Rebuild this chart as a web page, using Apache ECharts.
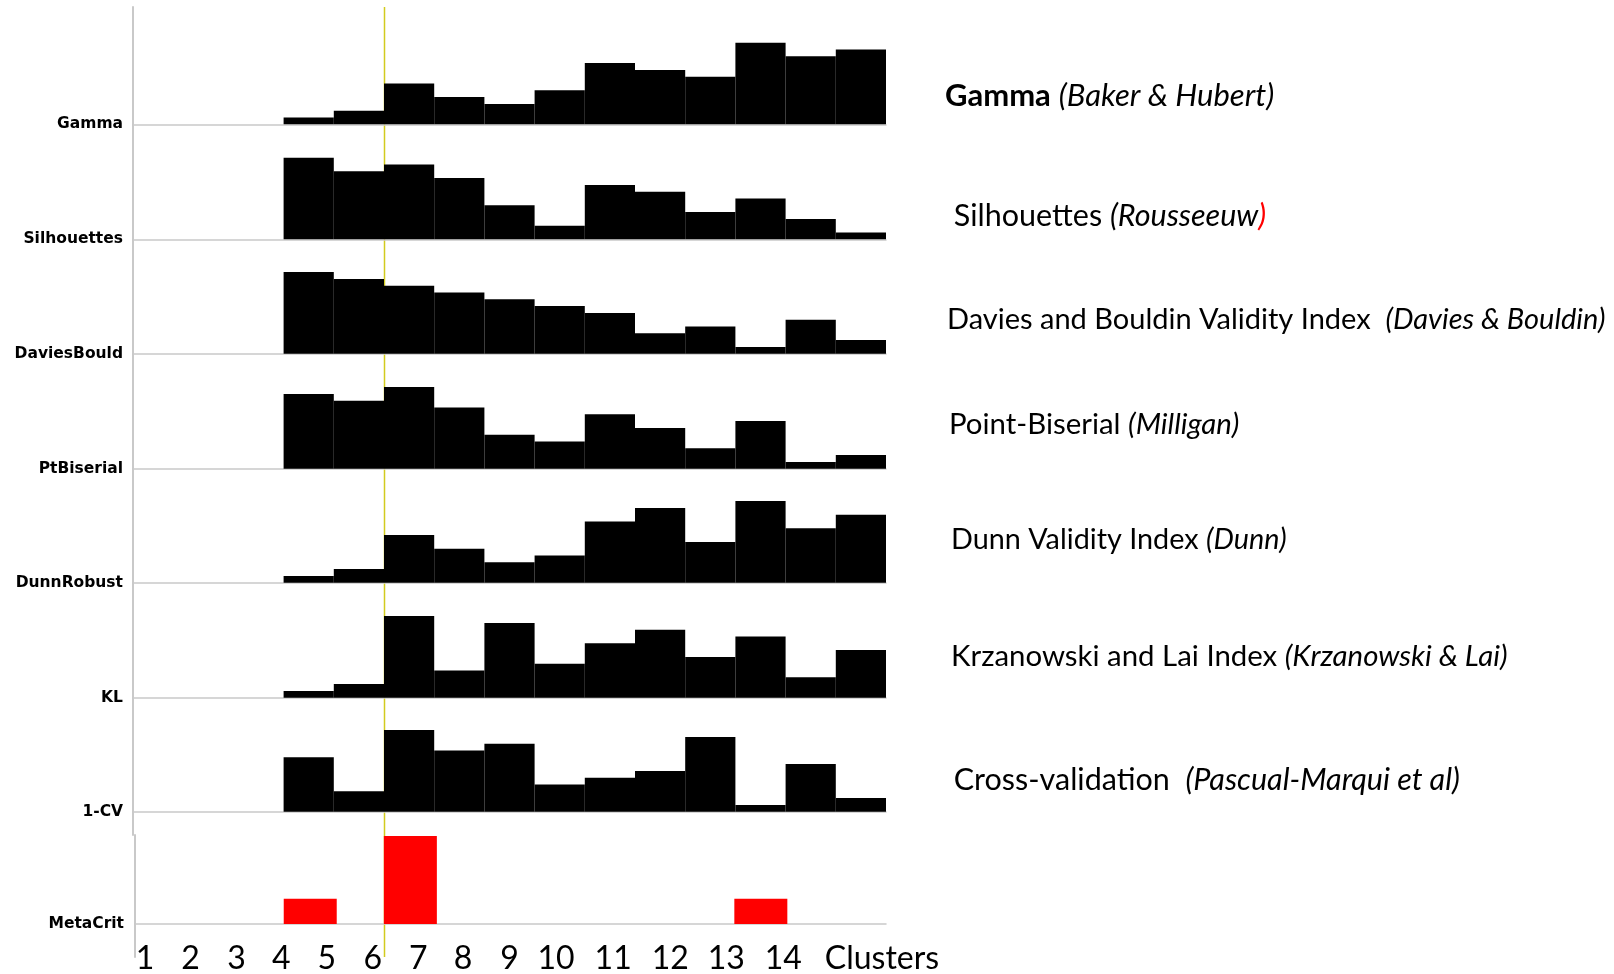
<!DOCTYPE html>
<html>
<head>
<meta charset="utf-8">
<script src="https://cdn.jsdelivr.net/npm/echarts@6/dist/echarts.min.js"></script>
<style>
  html, body { margin: 0; padding: 0; background: #ffffff; }
  #chart { width: 1614px; height: 974px; }
</style>
</head>
<body>
<div id="chart"></div>
<script>
// Number of clusters, one column each
const clusters = ['1', '2', '3', '4', '5', '6', '7', '8', '9', '10', '11', '12', '13', '14', '15'];
// Tick labels printed under the bottom panel
const tickLabels = ['1', '2', '3', '4', '5', '6', '7', '8', '9', '10', '11', '12', '13', '14', 'Clusters'];
// Where each tick label sits along the cluster axis (in column units from the left axis)
const tickAt = [0.20, 1.11, 2.03, 2.92, 3.83, 4.75, 5.66, 6.55, 7.48, 8.41, 9.55, 10.69, 11.81, 12.95, 14.92];

// Solutions evaluated: 4 .. 15 clusters
const firstCluster = 4;
// Rank of each solution per criterion (12 = best)
const gamma       = [1, 2, 6, 4, 3, 5, 9, 8, 7, 12, 10, 11];
const silhouettes = [12, 10, 11, 9, 5, 2, 8, 7, 4, 6, 3, 1];
const daviesBould = [12, 11, 10, 9, 8, 7, 6, 3, 4, 1, 5, 2];
const ptBiserial  = [11, 10, 12, 9, 5, 4, 8, 6, 3, 7, 1, 2];
const dunnRobust  = [1, 2, 7, 5, 3, 4, 9, 11, 6, 12, 8, 10];
const kl          = [1, 2, 12, 4, 11, 5, 8, 10, 6, 9, 3, 7];
const oneMinusCV  = [8, 3, 12, 9, 10, 4, 5, 6, 11, 1, 7, 2];
// Meta-criterion votes
const metaCrit    = [2, 0, 7, 0, 0, 0, 0, 0, 0, 2, 0, 0];

const panelNames  = ['Gamma', 'Silhouettes', 'DaviesBould', 'PtBiserial', 'DunnRobust', 'KL', '1-CV'];
const panelValues = [gamma, silhouettes, daviesBould, ptBiserial, dunnRobust, kl, oneMinusCV];
const metaName = 'MetaCrit';
// Column marked by the vertical guide
const markedCluster = '6';

// Descriptions shown to the right of the panels
const notes = [
  '{b|Gamma} {i|(Baker & Hubert)}',
  ' Silhouettes {i|(Rousseeuw}{ir|)}',
  'Davies and Bouldin Validity Index  {i|(Davies & Bouldin)}',
  'Point-Biserial {i|(Milligan)}',
  'Dunn Validity Index {i|(Dunn)}',
  'Krzanowski and Lai Index {i|(Krzanowski & Lai)}',
  ' Cross-validation  {i|(Pascual-Marqui et al)}'
];

// ---- layout (pixels) ----
const AXIS_X = 133;
const PLOT_RIGHT = 886;
const TOP_EDGE = 7;
const RANK_PX = 6.8;                       // height of one rank step
const baselines = [124.3, 239.3, 353.7, 468.7, 582.7, 697.7, 811.7];
const UPPER_BOTTOM = 835;
const META = { left: 135, top: 835, bottom: 957, base: 924, unit: 88 / 7 };
const noteX = [945, 946, 947, 949, 951, 951, 946];
const noteY = [96, 216, 320, 425, 540, 657, 780];
const noteSize = [31, 30.5, 29, 29.4, 28.8, 29.4, 30.5];

function padded(vals) {
  const start = clusters.indexOf(String(firstCluster));
  return clusters.map((c, k) => (k >= start && k - start < vals.length) ? vals[k - start] : null);
}

const grids = [], xAxes = [], yAxes = [], series = [];
const axisGray = '#c9c9c9';
const nameLabel = (name, margin) => ({
  customValues: [0], formatter: () => name, margin: margin,
  verticalAlign: 'middle', padding: [8, 0, 0, 0],
  color: '#000', fontFamily: 'DejaVu Sans', fontWeight: 'bold', fontSize: 15.5
});

panelNames.forEach((name, i) => {
  const top = i === 0 ? TOP_EDGE : baselines[i - 1];
  const bottom = i === panelNames.length - 1 ? UPPER_BOTTOM : baselines[i];
  grids.push({ left: AXIS_X, top: top, width: PLOT_RIGHT - AXIS_X, height: bottom - top, outerBoundsMode: 'none' });
  xAxes.push({
    type: 'category', gridIndex: i, data: clusters, boundaryGap: true,
    axisLine: { show: true, onZero: true, lineStyle: { color: axisGray, width: 1.5 } },
    axisTick: { show: false }, axisLabel: { show: false }, splitLine: { show: false }
  });
  yAxes.push({
    type: 'value', gridIndex: i,
    min: -(bottom - baselines[i]) / RANK_PX,
    max: (baselines[i] - top) / RANK_PX,
    axisLine: { show: true, lineStyle: { color: axisGray, width: 2 } },
    axisTick: { show: false }, splitLine: { show: false },
    axisLabel: nameLabel(name, 10)
  });
  series.push({
    type: 'bar', xAxisIndex: i, yAxisIndex: i, data: padded(panelValues[i]),
    barWidth: '100%', barGap: '0%', silent: true,
    itemStyle: { color: '#000000' }
  });
});

// bottom panel: meta criterion
const mi = panelNames.length;
grids.push({ left: META.left, top: META.top, width: PLOT_RIGHT - META.left, height: META.bottom - META.top, outerBoundsMode: 'none' });
xAxes.push({
  type: 'category', gridIndex: mi, data: clusters, boundaryGap: true,
  axisLine: { show: true, onZero: true, lineStyle: { color: axisGray, width: 1.5 } },
  axisTick: { show: false }, axisLabel: { show: false }, splitLine: { show: false }
});
xAxes.push({
  type: 'value', gridIndex: mi, position: 'bottom', min: 0, max: clusters.length,
  axisLine: { show: false, onZero: false }, axisTick: { show: false }, splitLine: { show: false },
  axisLabel: {
    customValues: tickAt,
    formatter: (v) => {
      let best = 0;
      tickAt.forEach((t, k) => { if (Math.abs(t - v) < Math.abs(tickAt[best] - v)) best = k; });
      return tickLabels[best];
    },
    verticalAlign: 'middle', margin: 2,
    color: '#000', fontFamily: 'Lato', fontSize: 32
  }
});
yAxes.push({
  type: 'value', gridIndex: mi,
  min: -(META.bottom - META.base) / META.unit,
  max: (META.base - META.top) / META.unit,
  axisLine: { show: true, lineStyle: { color: axisGray, width: 2 } },
  axisTick: { show: false }, splitLine: { show: false },
  axisLabel: nameLabel(metaName, 11)
});
series.push({
  type: 'bar', xAxisIndex: mi, yAxisIndex: mi, data: padded(metaCrit),
  barWidth: 53, silent: true, itemStyle: { color: '#ff0000' }
});

// vertical guide at the marked column
const cellW = (PLOT_RIGHT - AXIS_X) / clusters.length;
const guideX = AXIS_X + clusters.indexOf(markedCluster) * cellW + 0.5;

const graphics = [{
  type: 'line', z: -1, silent: true,
  shape: { x1: guideX, y1: TOP_EDGE, x2: guideX, y2: META.bottom },
  style: { stroke: '#d2cb1e', lineWidth: 1.5 }
}];
notes.forEach((t, k) => {
  const fs = noteSize[k];
  graphics.push({
    type: 'text', x: noteX[k], y: noteY[k], silent: true,
    style: {
      text: t, fill: '#000', fontFamily: 'Lato', fontSize: fs, verticalAlign: 'middle',
      rich: {
        b: { fontFamily: 'Lato', fontSize: fs, fontWeight: 'bold', fill: '#000' },
        i: { fontFamily: 'Lato', fontSize: fs, fontStyle: 'italic', fill: '#000' },
        ir: { fontFamily: 'Lato', fontSize: fs, fontStyle: 'italic', fill: '#ff0000' }
      }
    }
  });
});

const chart = echarts.init(document.getElementById('chart'), null, { renderer: 'canvas' });
chart.setOption({
  animation: false,
  backgroundColor: '#ffffff',
  grid: grids,
  xAxis: xAxes,
  yAxis: yAxes,
  series: series,
  graphic: graphics
});
</script>
</body>
</html>
